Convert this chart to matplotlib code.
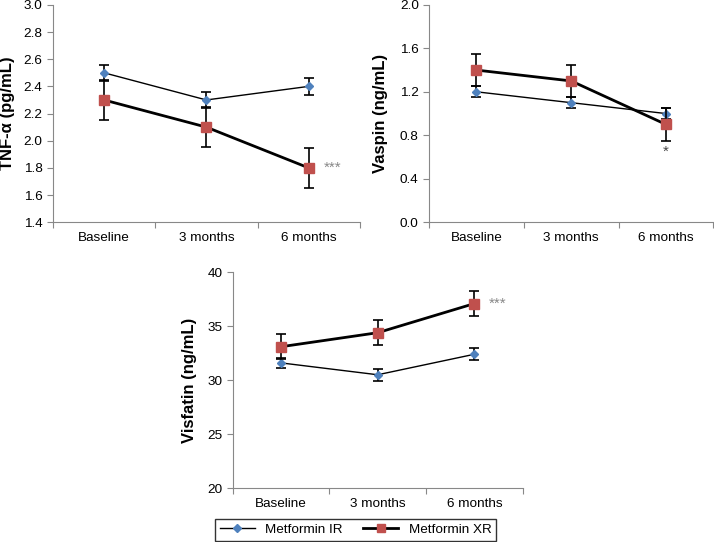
import numpy as np
import matplotlib.pyplot as plt
from matplotlib.lines import Line2D

plt.rcParams['font.family'] = ['Liberation Sans', 'DejaVu Sans']

timepoints = ['Baseline', '3 months', '6 months']

tnf_ir = [2.5, 2.3, 2.4]
tnf_ir_err = [0.06, 0.06, 0.06]
tnf_xr = [2.3, 2.1, 1.8]
tnf_xr_err = [0.145, 0.145, 0.145]

vaspin_ir = [1.2, 1.1, 1.0]
vaspin_ir_err = [0.05, 0.05, 0.05]
vaspin_xr = [1.4, 1.3, 0.9]
vaspin_xr_err = [0.15, 0.15, 0.15]

visfatin_ir = [31.6, 30.5, 32.4]
visfatin_ir_err = [0.5, 0.55, 0.55]
visfatin_xr = [33.1, 34.4, 37.1]
visfatin_xr_err = [1.15, 1.15, 1.15]

blue = '#4F81BD'
red = '#C0504D'
grey = '#888888'


def draw_panel(ax, ir, ir_err, xr, xr_err, ylim, ystep, ylabel, fmt, star, star_side, label_x):
    x = np.arange(len(timepoints)) + 0.5
    ax.errorbar(x, ir, yerr=ir_err, color='black', lw=1, ecolor='black',
                elinewidth=1.2, capsize=3.5, capthick=1.2, marker='D', ms=4,
                mfc=blue, mec=blue, zorder=3)
    ax.errorbar(x, xr, yerr=xr_err, color='black', lw=2, ecolor='black',
                elinewidth=1.2, capsize=3.5, capthick=1.2, marker='s', ms=7.5,
                mfc=red, mec=red, zorder=4)
    ax.set_xlim(0, 3)
    ax.set_ylim(*ylim)
    ax.set_yticks(np.arange(ylim[0], ylim[1] + ystep / 2, ystep))
    ax.yaxis.set_major_formatter(plt.FormatStrFormatter(fmt))
    ax.set_xticks([0, 1, 2, 3])
    ax.set_xticklabels([])
    ax.set_xticks(x, minor=True)
    ax.set_xticklabels(timepoints, minor=True)
    ax.tick_params(axis='x', which='minor', length=0, labelsize=9.7, pad=7)
    ax.tick_params(axis='x', which='major', direction='out', length=4, color=grey)
    ax.tick_params(axis='y', direction='out', length=4, color=grey, labelsize=9.7)
    for s in ['top', 'right']:
        ax.spines[s].set_visible(False)
    for s in ['left', 'bottom']:
        ax.spines[s].set_color(grey)
    ax.set_ylabel(ylabel, fontsize=12, fontweight='bold')
    ax.yaxis.set_label_coords(label_x, 0.5)
    if star_side == 'right':
        ax.text(x[2] + 0.15, xr[2], star, color=grey, fontsize=11, va='center', ha='left')
    else:
        ax.text(x[2], xr[2] - xr_err[2] - 0.05 * (ylim[1] - ylim[0]), star,
                color='#444444', fontsize=11, va='center', ha='center')


fig = plt.figure(figsize=(7.14, 5.42), dpi=100)
ax1 = fig.add_axes([0.074, 0.590, 0.43, 0.401])
ax2 = fig.add_axes([0.601, 0.590, 0.398, 0.401])
ax3 = fig.add_axes([0.326, 0.0996, 0.406, 0.398])

draw_panel(ax1, tnf_ir, tnf_ir_err, tnf_xr, tnf_xr_err, (1.4, 3.0), 0.2,
           'TNF-\u03b1 (pg/mL)', '%.1f', '***', 'right', -0.124)
draw_panel(ax2, vaspin_ir, vaspin_ir_err, vaspin_xr, vaspin_xr_err, (0.0, 2.0), 0.4,
           'Vaspin (ng/mL)', '%.1f', '*', 'below', -0.144)
draw_panel(ax3, visfatin_ir, visfatin_ir_err, visfatin_xr, visfatin_xr_err, (20, 40), 5,
           'Visfatin (ng/mL)', '%d', '***', 'right', -0.124)

handles = [
    Line2D([], [], color='black', lw=1, marker='D', ms=4, mfc=blue, mec=blue),
    Line2D([], [], color='black', lw=2, marker='s', ms=6, mfc=red, mec=red),
]
fig.legend(handles, ['Metformin IR', 'Metformin XR'], loc='lower center',
           bbox_to_anchor=(0.498, 0.0), ncol=2, frameon=True, fancybox=False,
           edgecolor='black', fontsize=9.7, handlelength=2.6, columnspacing=1.5,
           borderpad=0.35, borderaxespad=0.1)

fig.savefig('out.png', dpi=100)
